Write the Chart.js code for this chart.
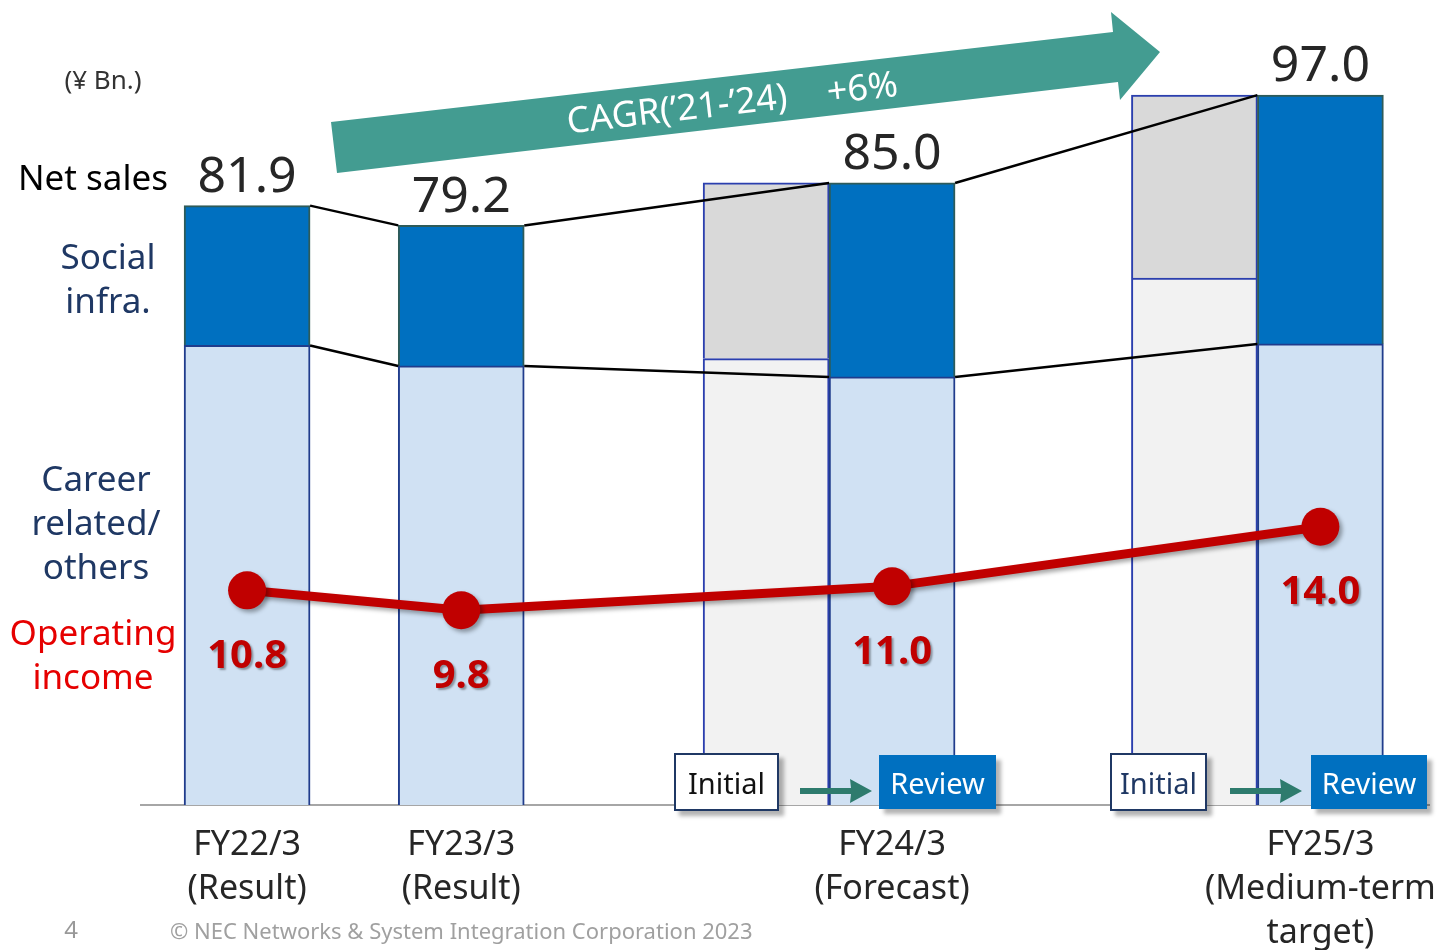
<!DOCTYPE html>
<html>
<head>
<meta charset="utf-8">
<script src="https://cdn.jsdelivr.net/npm/chart.js@4.4.0/dist/chart.umd.min.js"></script>
<style>
  body { margin: 0; background: #fff; font-family: "Noto Sans", sans-serif; }
  #wrap { position: relative; width: 1449px; height: 950px; overflow: hidden; }
  canvas, svg { position: absolute; left: 0; top: 0; }
  .lbl { position: absolute; text-align: center; white-space: nowrap; font-size: 35px; line-height: 44px; }
  .box { position: absolute; box-sizing: border-box; display: flex; align-items: center; justify-content: center;
         font-size: 29px; box-shadow: 5px 5px 4px rgba(0,0,0,0.3); }
</style>
</head>
<body>
<div id="wrap">
  <canvas id="c" width="1449" height="950"></canvas>

  <svg width="1449" height="950">
    <polygon points="331,122 1113,32 1111,12 1160,52 1120,100 1118,82 337,173" fill="#439c91"/>
    <text x="732" y="101" transform="rotate(-6.6 732 101)" fill="#fff" font-size="36" font-family="Noto Sans"
          text-anchor="middle" dominant-baseline="central">CAGR(’21-’24)<tspan dx="40">+6%</tspan></text>
    <polygon points="800,788 851,788 850,779 872,791 850,803 851,794 800,794" fill="#2e7b6d"/>
    <polygon points="1230,788 1281,788 1280,779 1302,791 1280,803 1281,794 1230,794" fill="#2e7b6d"/>
  </svg>

  <div class="lbl" style="left:40px; top:62px; width:126px; font-size:26px; line-height:34px; color:#333;">(¥ Bn.)</div>
  <div class="lbl" style="left:0; top:155px; width:168px; text-align:right; color:#000;">Net sales</div>
  <div class="lbl" style="left:8px; top:234px; width:200px; color:#1f3864;">Social<br>infra.</div>
  <div class="lbl" style="left:-4px; top:456px; width:200px; color:#1f3864;">Career<br>related/<br>others</div>
  <div class="lbl" style="left:-7px; top:610px; width:200px; color:#e60000;">Operating<br>income</div>

  <div class="box" style="left:674px; top:753px; width:105px; height:58px; background:#fff; border:2px solid #1f3864; color:#111;">Initial</div>
  <div class="box" style="left:879px; top:755px; width:117px; height:54px; background:#0070c0; color:#fff;">Review</div>
  <div class="box" style="left:1110px; top:753px; width:97px; height:58px; background:#fff; border:2px solid #1f3864; color:#1f3864;">Initial</div>
  <div class="box" style="left:1311px; top:755px; width:116px; height:54px; background:#0070c0; color:#fff;">Review</div>

  <div class="lbl" style="left:58px; top:914px; width:26px; font-size:24px; line-height:30px; color:#999;">4</div>
  <div class="lbl" style="left:170px; top:915px; font-size:22px; line-height:30px; color:#a0a0a0; text-align:left;">© NEC Networks &amp; System Integration Corporation 2023</div>
</div>

<script>
const years = [['FY22/3', '(Result)'], ['FY23/3', '(Result)'], ['FY24/3', '(Forecast)'], ['FY25/3', '(Medium-term', 'target)']];
const careerOthers = [62.8, 60.0, 58.5, 63.0];
const socialInfra = [19.1, 19.2, 26.5, 34.0];
// initial plan for FY24/3 and FY25/3
const initialCareer = [61.0, 72.0];
const initialSocial = [24.0, 25.0];
const operatingIncome = [10.8, 9.8, 11.0, 14.0];

// x layout on a linear axis, 1 unit = one bar width
const slot = [0, 1.7, 5.12, 8.52];
const initialSlot = [4.12, 7.52];

const pts = (xs, ys) => ys.map((y, i) => ({ x: xs[i], y: y }));

const extras = {
  id: 'extras',
  beforeDatasetsDraw(chart) {
    const { ctx, chartArea: a } = chart;
    ctx.save();
    ctx.strokeStyle = '#a6a6a6';
    ctx.lineWidth = 2;
    ctx.beginPath();
    ctx.moveTo(a.left, a.bottom);
    ctx.lineTo(a.right, a.bottom);
    ctx.stroke();
    ctx.restore();
  },
  beforeDatasetDraw(chart, args) {
    if (args.index !== 0) return;
    const ctx = chart.ctx;
    ctx.save();
    ctx.shadowColor = 'rgba(0,0,0,0.35)';
    ctx.shadowOffsetX = 3;
    ctx.shadowOffsetY = 3;
    ctx.shadowBlur = 4;
  },
  afterDatasetDraw(chart, args) {
    if (args.index === 0) chart.ctx.restore();
  },
  afterDatasetsDraw(chart) {
    const ctx = chart.ctx;
    const career = chart.getDatasetMeta(1).data;
    const social = chart.getDatasetMeta(2).data;
    const line = chart.getDatasetMeta(0).data;

    // connector lines between bars
    ctx.save();
    ctx.strokeStyle = '#000';
    ctx.lineWidth = 2.5;
    [career, social].forEach(els => {
      ctx.beginPath();
      for (let i = 0; i < els.length - 1; i++) {
        ctx.moveTo(els[i].x + els[i].width / 2, els[i].y);
        ctx.lineTo(els[i + 1].x - els[i + 1].width / 2, els[i + 1].y);
      }
      ctx.stroke();
    });

    // net sales totals
    ctx.textAlign = 'center';
    ctx.textBaseline = 'middle';
    ctx.fillStyle = '#262626';
    ctx.font = '50px "Noto Sans"';
    social.forEach((el, i) => {
      ctx.fillText((careerOthers[i] + socialInfra[i]).toFixed(1), el.x, el.y - 28);
    });

    // operating income values
    ctx.font = 'bold 40px "Noto Sans"';
    ctx.fillStyle = '#c00000';
    ctx.shadowColor = 'rgba(0,0,0,0.35)';
    ctx.shadowOffsetX = 2;
    ctx.shadowOffsetY = 2;
    ctx.shadowBlur = 2;
    line.forEach((el, i) => {
      ctx.fillText(operatingIncome[i].toFixed(1), el.x, el.y + 66);
    });
    ctx.restore();
  }
};

new Chart(document.getElementById('c'), {
  type: 'bar',
  data: {
    datasets: [
      {
        type: 'line',
        label: 'Operating income',
        data: pts(slot, operatingIncome),
        yAxisID: 'y2',
        borderColor: '#c00000',
        borderWidth: 9,
        pointRadius: 19,
        pointBackgroundColor: '#c00000',
        pointBorderWidth: 0,
        order: 0
      },
      {
        label: 'Career related/others',
        data: pts(slot, careerOthers),
        backgroundColor: '#d0e1f3',
        borderColor: '#203c8c',
        borderWidth: 2,
        order: 1
      },
      {
        label: 'Social infra.',
        data: pts(slot, socialInfra),
        backgroundColor: '#0070c0',
        borderColor: '#2e5b59',
        borderWidth: 2,
        order: 1
      },
      {
        label: 'Initial career related/others',
        data: pts(initialSlot, initialCareer),
        backgroundColor: '#f2f2f2',
        borderColor: '#2b3fae',
        borderWidth: 2,
        order: 2
      },
      {
        label: 'Initial social infra.',
        data: pts(initialSlot, initialSocial),
        backgroundColor: '#d9d9d9',
        borderColor: '#2b3fae',
        borderWidth: 2,
        order: 2
      }
    ]
  },
  options: {
    responsive: false,
    animation: false,
    events: [],
    layout: { autoPadding: false, padding: { left: 140, right: 19, top: 0, bottom: 0 } },
    datasets: { bar: { barThickness: 126, grouped: false } },
    scales: {
      x: {
        type: 'linear',
        min: -0.85,
        max: 9.39,
        offset: false,
        grid: { display: false, drawTicks: false },
        border: { display: false },
        afterBuildTicks: s => { s.ticks = slot.map(v => ({ value: v })); },
        afterFit: s => { s.paddingLeft = 0; s.paddingRight = 0; s.height = 145; },
        ticks: {
          padding: 18,
          color: '#262626',
          font: { family: 'Noto Sans', size: 34, lineHeight: 1.3 },
          maxRotation: 0,
          autoSkip: false,
          callback: (v, i) => years[i]
        }
      },
      y: { stacked: true, min: 0, max: 110, display: false },
      y2: { min: 0, max: 40.5, display: false }
    },
    plugins: {
      legend: { display: false },
      tooltip: { enabled: false }
    }
  },
  plugins: [extras]
});
</script>
</body>
</html>
